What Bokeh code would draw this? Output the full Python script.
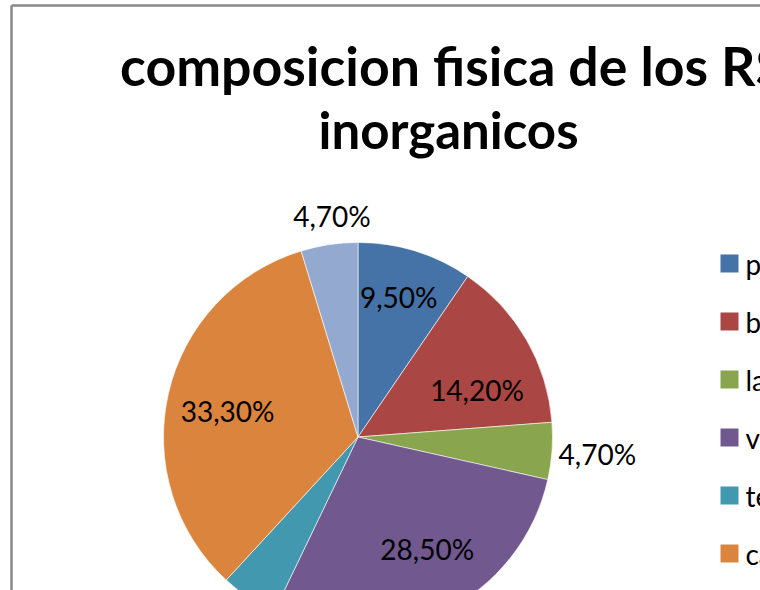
import math
from bokeh.plotting import figure
from bokeh.models import Range1d, ColumnDataSource
from bokeh.core.properties import value
from bokeh.embed import file_html
from bokeh.resources import INLINE

# ---- data ----
categories = ["papel", "botellas", "latas", "vidrio", "tetrapack", "cartón", "otros"]
percent = [9.5, 14.2, 4.7, 28.5, 4.7, 33.3, 4.7]
colors = ["#4572A7", "#AA4643", "#89A54E", "#71588F", "#4198AF", "#DB843D", "#93A9CF"]
title_lines = ["composicion fisica de los RS", "inorganicos"]

# ---- layout (pixels) ----
W, H = 760, 590
CX, CY, R = 357.5, 153.5, 194.5
label_r = [146, 128, 240, 132, 235, 133, 223]
label_dang = [1.0, -8.4, 0.0, 5.8, 0.0, 1.5, -1.8]
FONT = "Lato"

p = figure(width=W, height=H, output_backend="svg", toolbar_location=None,
           x_range=Range1d(0, W), y_range=Range1d(0, H), min_border=0,
           outline_line_color=None)
p.axis.visible = False
p.grid.visible = False
p.background_fill_color = "white"
p.border_fill_color = "white"

# chart border (left & top edges visible in the crop)
p.segment(x0=[11, 11], y0=[0, 585], x1=[11, W], y1=[585, 585],
          line_color="#898989", line_width=2.5)

# wedges
total = sum(percent)
starts, ends, mids = [], [], []
cum = 0.0
for v in percent:
    a0 = math.pi / 2 - 2 * math.pi * cum / total
    cum += v
    a1 = math.pi / 2 - 2 * math.pi * cum / total
    starts.append(a0)
    ends.append(a1)
    mids.append((a0 + a1) / 2)

src = ColumnDataSource(dict(start=starts, end=ends, color=colors, cat=categories))
p.wedge(x=CX, y=CY, radius=R, start_angle="start", end_angle="end",
        direction="clock", fill_color="color", line_color="white",
        line_width=0.6, source=src)

# data labels
lx, ly, lt = [], [], []
for v, m, r, d in zip(percent, mids, label_r, label_dang):
    a = m + math.radians(d)
    lx.append(CX + r * math.cos(a))
    ly.append(CY + r * math.sin(a))
    lt.append(f"{v:.2f}".replace(".", ",") + "%")
p.text(x=lx, y=ly, text=lt, text_font=value(FONT), text_font_size="28px",
       text_align="center", text_baseline="middle", text_color="black")

# title
p.text(x=[452], y=[526], text=title_lines[:1], text_font=value(FONT),
       text_font_size="53.6px", text_font_style="bold", text_align="center",
       text_baseline="middle", text_color="black")
p.text(x=[448], y=[461], text=title_lines[1:], text_font=value(FONT),
       text_font_size="51px", text_font_style="bold", text_align="center",
       text_baseline="middle", text_color="black")

# legend
ly0, lstep = 327, 58
leg_y = [ly0 - i * lstep for i in range(len(categories))]
p.scatter(x=[729] * len(categories), y=leg_y, marker="square", size=18,
          fill_color=colors, line_color=None)
p.text(x=[745] * len(categories), y=leg_y, text=categories, text_font=value(FONT),
       text_font_size="28px", text_align="left", text_baseline="middle",
       text_color="black")

open("out.html", "w").write(file_html(p, INLINE))
